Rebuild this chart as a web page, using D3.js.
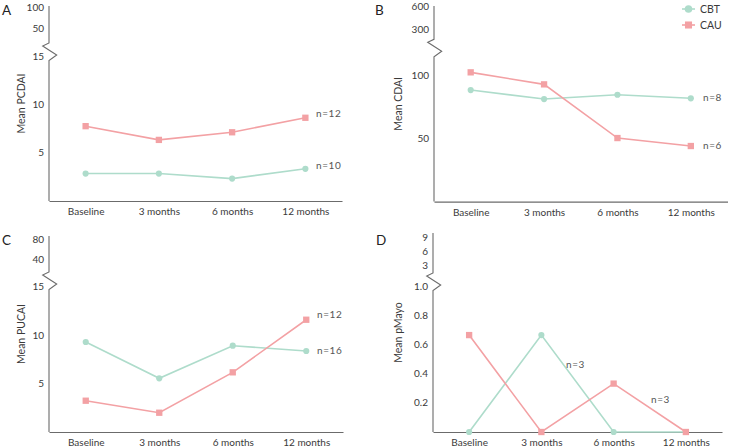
<!DOCTYPE html>
<html>
<head>
<meta charset="utf-8">
<script src="https://cdn.jsdelivr.net/npm/d3@7"></script>
<style>
  html, body { margin: 0; padding: 0; background: #fff; }
  svg { display: block; font-family: Lato, "Open Sans", sans-serif; }
</style>
</head>
<body>
<svg id="chart" width="729" height="448"></svg>
<script>
// ---------- data ----------
const categories = ["Baseline", "3 months", "6 months", "12 months"];
const seriesNames = ["CBT", "CAU"];

const pcdaiCBT = [2.84, 2.84, 2.32, 3.33];
const pcdaiCAU = [7.74, 6.32, 7.11, 8.61];
const cdaiCBT = [88.1, 81.0, 84.4, 81.6];
const cdaiCAU = [102.1, 92.6, 50.2, 43.9];
const pucaiCBT = [9.29, 5.54, 8.91, 8.36];
const pucaiCAU = [3.23, 1.99, 6.16, 11.59];
const pmayoCBT = [0, 0.667, 0, 0];
const pmayoCAU = [0.667, 0, 0.333, 0];

const pcdaiLowerTicks = [5, 10, 15];
const pcdaiUpperTicks = [50, 100];
const cdaiLowerTicks = [50, 100];
const cdaiUpperTicks = [300, 600];
const pucaiLowerTicks = [5, 10, 15];
const pucaiUpperTicks = [40, 80];
const pmayoLowerTicks = [0.2, 0.4, 0.6, 0.8, 1.0];
const pmayoUpperTicks = [3, 6, 9];

const pcdaiN = ["n=10", "n=12"];
const cdaiN = ["n=8", "n=6"];
const pucaiN = ["n=16", "n=12"];
const pmayoN = ["n=3", "n=3"];

// ---------- style ----------
const colCBT = "#aedccb";
const colCAU = "#f3a1a4";
const axisCol = "#6b6b6b";
const textCol = "#3a3a3a";

const svg = d3.select("#chart");

function panel(cfg) {
  const g = svg.append("g");
  const x = d3.scalePoint().domain(categories).range([cfg.left, cfg.right]).padding(0.5);
  const yLow = d3.scaleLinear().domain(cfg.lowDomain).range(cfg.lowRange);
  const yUp = d3.scaleLinear().domain(cfg.upDomain).range(cfg.upRange);

  // y axis with break
  const ax = cfg.left, bt = cfg.breakTop;
  const axisPts = [[ax, cfg.top], [ax, bt], [ax - 6.3, bt + 3], [ax + 7.7, bt + 12], [ax, bt + 17.5], [ax, cfg.bottom]];
  g.append("path").attr("d", d3.line()(axisPts))
    .attr("fill", "none").attr("stroke", axisCol).attr("stroke-width", 1.1);

  // x axis
  const xa = g.append("g").attr("transform", `translate(0,${cfg.bottom})`)
    .call(d3.axisBottom(x).tickSizeInner(0).tickSizeOuter(0).tickPadding(7));
  xa.select(".domain").attr("stroke", axisCol).attr("stroke-width", 1.1);
  xa.selectAll("text").attr("fill", textCol).style("font-size", "10px").style("font-family", "Lato, sans-serif");

  // y tick labels
  const fmt = cfg.fmt || (d => d);
  g.selectAll(".tl").data(cfg.lowTicks).join("text")
    .attr("x", ax - 5).attr("y", d => yLow(d)).attr("dy", "0.35em")
    .attr("text-anchor", "end").attr("fill", textCol).style("font-size", "10px")
    .text(fmt);
  g.selectAll(".tu").data(cfg.upTicks).join("text")
    .attr("x", ax - 5).attr("y", d => yUp(d)).attr("dy", "0.35em")
    .attr("text-anchor", "end").attr("fill", textCol).style("font-size", "10px")
    .text(d => d);

  // y title
  const cy = (cfg.top + cfg.bottom) / 2;
  g.append("text").attr("transform", `translate(${cfg.titleX},${cy}) rotate(-90)`)
    .attr("text-anchor", "middle").attr("fill", textCol).style("font-size", "10.5px")
    .text(cfg.title);

  // panel letter
  g.append("text").attr("x", cfg.letterX).attr("y", cfg.letterY)
    .attr("fill", "#222").style("font-size", "13.5px").text(cfg.letter);

  const line = d3.line().x((d, i) => x(categories[i])).y(d => yLow(d));
  [[cfg.cbt, colCBT, "circle"], [cfg.cau, colCAU, "square"]].forEach(([vals, col, shape]) => {
    g.append("path").datum(vals).attr("d", line)
      .attr("fill", "none").attr("stroke", col).attr("stroke-width", 1.6);
    const sym = d3.symbol().type(shape === "circle" ? d3.symbolCircle : d3.symbolSquare)
      .size(shape === "circle" ? 30 : 40);
    g.selectAll(null).data(vals).join("path")
      .attr("d", sym)
      .attr("transform", (d, i) => `translate(${x(categories[i])},${yLow(d)})`)
      .attr("fill", col);
  });

  // n labels
  cfg.nLabels.forEach(l => {
    g.append("text").attr("x", l.x).attr("y", l.y).attr("dy", "0.35em")
      .attr("fill", "#555").style("font-size", "10px").style("letter-spacing", "0.6px")
      .text(l.t);
  });
}

panel({
  letter: "A", letterX: 2, letterY: 15,
  left: 49, right: 342, top: 6, bottom: 201, breakTop: 43,
  lowDomain: [0, 15], lowRange: [201, 56], upDomain: [50, 100], upRange: [28, 7],
  lowTicks: pcdaiLowerTicks, upTicks: pcdaiUpperTicks,
  title: "Mean PCDAI", titleX: 25,
  cbt: pcdaiCBT, cau: pcdaiCAU,
  nLabels: [{ t: pcdaiN[1], x: 316, y: 113.5 }, { t: pcdaiN[0], x: 316, y: 165.5 }]
});

panel({
  letter: "B", letterX: 375, letterY: 15,
  left: 434, right: 727.5, top: 6, bottom: 201.6, breakTop: 39.3,
  lowDomain: [0, 100], lowRange: [201.6, 75], upDomain: [300, 600], upRange: [29, 6],
  lowTicks: cdaiLowerTicks, upTicks: cdaiUpperTicks,
  title: "Mean CDAI", titleX: 402,
  cbt: cdaiCBT, cau: cdaiCAU,
  nLabels: [{ t: cdaiN[0], x: 703, y: 97 }, { t: cdaiN[1], x: 703, y: 145.5 }]
});

panel({
  letter: "C", letterX: 2, letterY: 245,
  left: 49, right: 343, top: 236, bottom: 432, breakTop: 272,
  lowDomain: [0, 15], lowRange: [432, 286.7], upDomain: [40, 80], upRange: [259.3, 239],
  lowTicks: pucaiLowerTicks, upTicks: pucaiUpperTicks,
  title: "Mean PUCAI", titleX: 25,
  cbt: pucaiCBT, cau: pucaiCAU,
  nLabels: [{ t: pucaiN[1], x: 317, y: 314.5 }, { t: pucaiN[0], x: 317, y: 350.5 }]
});

panel({
  letter: "D", letterX: 376, letterY: 245,
  left: 433, right: 722, top: 233, bottom: 432, breakTop: 273,
  lowDomain: [0, 1], lowRange: [432, 286.7], upDomain: [3, 9], upRange: [265, 237.7],
  lowTicks: pmayoLowerTicks, upTicks: pmayoUpperTicks, fmt: d3.format(".1f"),
  title: "Mean pMayo", titleX: 402,
  cbt: pmayoCBT, cau: pmayoCAU,
  nLabels: [{ t: pmayoN[0], x: 566, y: 364 }, { t: pmayoN[1], x: 651, y: 399 }]
});

// legend
const legend = svg.append("g");
const legendColors = [colCBT, colCAU];
const legendShapes = [d3.symbolCircle, d3.symbolSquare];
seriesNames.forEach((name, i) => {
  const y = 9 + i * 16;
  legend.append("line").attr("x1", 682).attr("x2", 695).attr("y1", y).attr("y2", y)
    .attr("stroke", legendColors[i]).attr("stroke-width", 1.6);
  legend.append("path").attr("d", d3.symbol().type(legendShapes[i]).size(i ? 50 : 45)())
    .attr("transform", `translate(688.5,${y})`).attr("fill", legendColors[i]);
  legend.append("text").attr("x", 700).attr("y", y).attr("dy", "0.35em")
    .attr("fill", textCol).style("font-size", "10.5px").text(name);
});
</script>
</body>
</html>
